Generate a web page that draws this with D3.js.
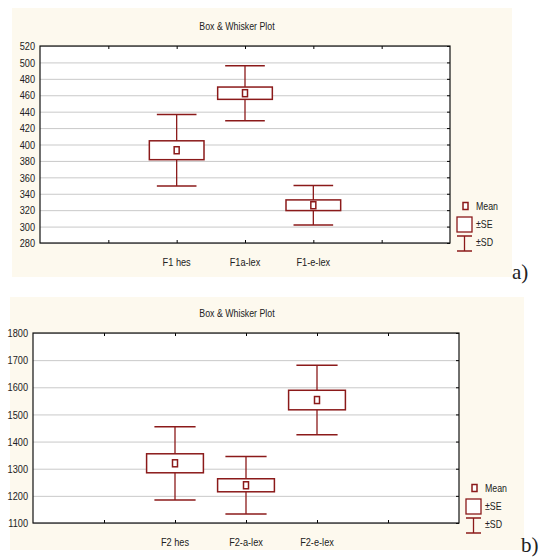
<!DOCTYPE html>
<html>
<head>
<meta charset="utf-8">
<script src="https://d3js.org/d3.v7.min.js"></script>
<style>
  body { margin: 0; background: white; }
  svg text { font-family: "Liberation Sans", Arial, sans-serif; fill: #222; }
  .grid line { stroke: #c9c9c9; }
  .grid .domain { stroke: none; }
</style>
</head>
<body>
<svg id="chart" width="544" height="557"></svg>
<script>
// panel a (F1)
const catsA = ["F1 hes", "F1a-lex", "F1-e-lex"];
const meanA = [393, 462.5, 326];
const seA = [11.5, 7.5, 6.5];
const sdA = [43.5, 33.5, 24];
const ticksA = d3.range(280, 521, 20);

// panel b (F2)
const catsB = ["F2 hes", "F2-a-lex", "F2-e-lex"];
const meanB = [1320, 1239, 1553];
const seB = [35, 24, 36];
const sdB = [135, 106, 128];
const ticksB = d3.range(1100, 1801, 100);

const red = "#8b1a1a";
const svg = d3.select("#chart");

function drawPanel(p) {
  const g = svg.append("g");
  g.append("rect").attr("x", p.bg[0]).attr("y", p.bg[1])
    .attr("width", p.bg[2]).attr("height", p.bg[3]).attr("fill", "#fdf9ee");

  const x = d3.scaleLinear().domain([0, 6]).range([p.left, p.right]);
  const y = d3.scaleLinear().domain(p.yDomain).range([p.bottom, p.top]);

  g.append("rect").attr("x", p.left).attr("y", p.top)
    .attr("width", p.right - p.left).attr("height", p.bottom - p.top).attr("fill", "white");

  // gridlines
  g.append("g").attr("class", "grid")
    .attr("transform", `translate(${p.left},0)`)
    .call(d3.axisLeft(y).tickValues(p.ticks).tickSize(-(p.right - p.left)).tickFormat(""));

  // left axis labels
  g.append("g").attr("transform", `translate(${p.left},0)`)
    .call(d3.axisLeft(y).tickValues(p.ticks).tickSize(0).tickPadding(5).tickFormat(d3.format("d")))
    .call(a => a.select(".domain").remove())
    .call(a => a.selectAll("text").attr("font-size", 11.5).attr("font-family", null).attr("fill", "#222").classed("narrow", true));

  // right ticks
  g.append("g").attr("transform", `translate(${p.right},0)`)
    .call(d3.axisLeft(y).tickValues(p.ticks).tickSize(3).tickFormat(""))
    .call(a => a.select(".domain").remove());
  // top / bottom ticks
  g.append("g").attr("transform", `translate(0,${p.top})`)
    .call(d3.axisBottom(x).tickValues([1, 2, 3, 4, 5]).tickSize(3).tickFormat(""))
    .call(a => a.select(".domain").remove());
  g.append("g").attr("transform", `translate(0,${p.bottom})`)
    .call(d3.axisTop(x).tickValues([1, 2, 3, 4, 5]).tickSize(3).tickFormat(""))
    .call(a => a.select(".domain").remove());

  g.append("rect").attr("x", p.left).attr("y", p.top)
    .attr("width", p.right - p.left).attr("height", p.bottom - p.top)
    .attr("fill", "none").attr("stroke", "#111").attr("stroke-width", 1.2);

  // category labels
  g.selectAll(".cat").data(p.cats).join("text").attr("class", "narrow")
    .attr("x", (d, i) => x(i + 2)).attr("y", p.bottom + 23)
    .attr("text-anchor", "middle").attr("font-size", 11.5).text(d => d);

  // title
  g.append("text").attr("class", "narrow").attr("x", 237).attr("y", p.top - 16)
    .attr("text-anchor", "middle").attr("font-size", 11).text("Box & Whisker Plot");

  const step = x(1) - x(0);
  const bw = step * 0.4, cw = step * 0.29;
  const rows = p.cats.map((c, i) => ({ i, m: p.mean[i], se: p.se[i], sd: p.sd[i] }));
  const b = g.selectAll(".box").data(rows).join("g");
  b.append("line").attr("x1", d => x(d.i + 2)).attr("x2", d => x(d.i + 2))
    .attr("y1", d => y(d.m + d.sd)).attr("y2", d => y(d.m - d.sd))
    .attr("stroke", red).attr("stroke-width", 1.3);
  b.append("line").attr("x1", d => x(d.i + 2) - cw).attr("x2", d => x(d.i + 2) + cw)
    .attr("y1", d => y(d.m + d.sd)).attr("y2", d => y(d.m + d.sd))
    .attr("stroke", red).attr("stroke-width", 1.5);
  b.append("line").attr("x1", d => x(d.i + 2) - cw).attr("x2", d => x(d.i + 2) + cw)
    .attr("y1", d => y(d.m - d.sd)).attr("y2", d => y(d.m - d.sd))
    .attr("stroke", red).attr("stroke-width", 1.5);
  b.append("rect").attr("x", d => x(d.i + 2) - bw).attr("width", bw * 2)
    .attr("y", d => y(d.m + d.se)).attr("height", d => y(d.m - d.se) - y(d.m + d.se))
    .attr("fill", "white").attr("stroke", red).attr("stroke-width", 1.5);
  b.append("rect").attr("x", d => x(d.i + 2) - 2.5).attr("width", 5)
    .attr("y", d => y(d.m) - 3.5).attr("height", 7)
    .attr("fill", "white").attr("stroke", red).attr("stroke-width", 1.5);

  // legend
  const lx = p.right + 7, ly = p.legY;
  g.append("rect").attr("x", lx + 6).attr("y", ly - 3.5).attr("width", 5).attr("height", 7)
    .attr("fill", "white").attr("stroke", red).attr("stroke-width", 1.5);
  g.append("text").attr("class", "narrow").attr("x", lx + 19).attr("y", ly + 4).attr("font-size", 11).text("Mean");
  g.append("rect").attr("x", lx).attr("y", ly + 11).attr("width", 15).attr("height", 15)
    .attr("fill", "white").attr("stroke", red).attr("stroke-width", 1.3);
  g.append("text").attr("class", "narrow").attr("x", lx + 19).attr("y", ly + 22).attr("font-size", 11).text("±SE");
  g.append("line").attr("x1", lx).attr("x2", lx + 15).attr("y1", ly + 30).attr("y2", ly + 30)
    .attr("stroke", red).attr("stroke-width", 1.5);
  g.append("line").attr("x1", lx).attr("x2", lx + 15).attr("y1", ly + 45).attr("y2", ly + 45)
    .attr("stroke", red).attr("stroke-width", 1.5);
  g.append("line").attr("x1", lx + 7.5).attr("x2", lx + 7.5).attr("y1", ly + 30).attr("y2", ly + 45)
    .attr("stroke", red).attr("stroke-width", 1.3);
  g.append("text").attr("class", "narrow").attr("x", lx + 19).attr("y", ly + 40).attr("font-size", 11).text("±SD");

  g.append("text").attr("x", p.tag[0]).attr("y", p.tag[1])
    .attr("font-size", 21).style("font-family", "'Liberation Serif', 'Times New Roman', serif")
    .attr("fill", "#111").text(p.label);
}

drawPanel({
  bg: [12, 8, 500, 269], left: 40, right: 450, top: 46, bottom: 243,
  yDomain: [280, 520], ticks: ticksA, cats: catsA, mean: meanA, se: seA, sd: sdA,
  legY: 206, tag: [512, 279], label: "a)"
});
drawPanel({
  bg: [10, 297, 514, 253], left: 33, right: 459, top: 333, bottom: 523,
  yDomain: [1100, 1800], ticks: ticksB, cats: catsB, mean: meanB, se: seB, sd: sdB,
  legY: 488, tag: [521, 552], label: "b)"
});

// squeeze the sans texts to mimic the condensed face of the original
svg.selectAll("text.narrow").each(function () {
  const len = this.getComputedTextLength();
  d3.select(this).attr("textLength", len * 0.8).attr("lengthAdjust", "spacingAndGlyphs");
});
</script>
</body>
</html>
